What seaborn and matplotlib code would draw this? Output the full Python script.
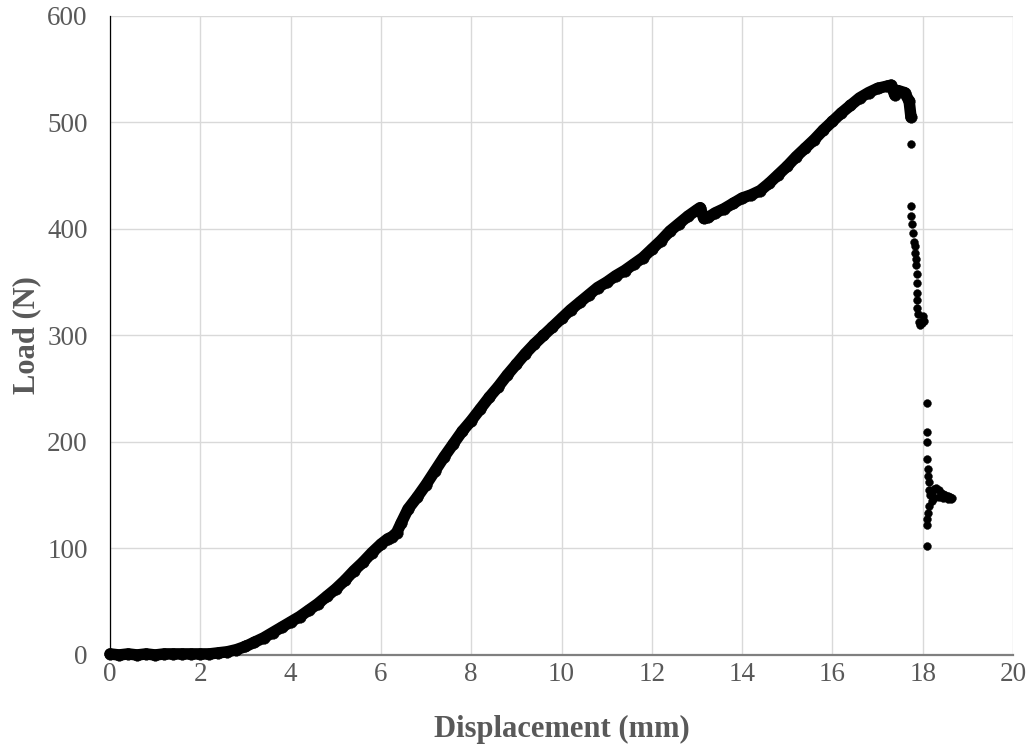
import matplotlib
matplotlib.use("Agg")
import matplotlib.pyplot as plt
import seaborn as sns
import pandas as pd

# Load-displacement record: continuous loading branch up to the peak
disp_main = [0.00, 0.20, 0.40, 0.60, 0.80, 1.00, 1.20, 1.40, 1.60, 1.80,
             2.00, 2.20, 2.40, 2.60, 2.80, 3.00, 3.20, 3.40, 3.60, 3.80,
             4.00, 4.20, 4.40, 4.60, 4.80, 5.00, 5.20, 5.40, 5.60, 5.80,
             6.00, 6.15, 6.25, 6.35, 6.45, 6.60, 6.80, 7.00, 7.20, 7.40,
             7.60, 7.80, 8.00, 8.20, 8.40, 8.60, 8.80, 9.00, 9.20, 9.40,
             9.60, 9.80, 10.00, 10.20, 10.40, 10.60, 10.80, 11.00, 11.20, 11.40,
             11.60, 11.80, 12.00, 12.20, 12.40, 12.60, 12.80, 13.00, 13.07, 13.15,
             13.25, 13.40, 13.60, 13.80, 14.00, 14.20, 14.40, 14.60, 14.80, 15.00,
             15.20, 15.40, 15.60, 15.80, 16.00, 16.20, 16.40, 16.60, 16.80, 17.00,
             17.20, 17.30, 17.38, 17.45, 17.60, 17.70, 17.74]
load_main = [1, 0, 1, 0, 1, 0, 1, 1, 1, 1,
             1, 1, 2, 3, 5, 8, 12, 16, 21, 26,
             31, 36, 42, 48, 55, 62, 70, 79, 87, 96,
             104, 109, 111, 115, 124, 137, 148, 160, 173, 186,
             198, 210, 220, 231, 242, 252, 263, 273, 283, 292,
             300, 308, 316, 324, 331, 338, 345, 350, 356, 361,
             367, 373, 381, 389, 398, 405, 412, 418, 420, 410,
             411, 415, 419, 424, 429, 432, 436, 443, 451, 459,
             468, 476, 484, 493, 501, 509, 516, 523, 528, 532,
             534, 535, 526, 530, 528, 520, 505]

# Post-peak failure: scattered readings during the load drop
disp_drop = [17.74, 17.74, 17.75, 17.76, 17.78, 17.80, 17.82, 17.84, 17.86, 17.86,
             17.87, 17.87, 17.87, 17.87, 17.88, 17.90, 17.92, 17.95, 17.98, 18.00,
             18.02, 18.09, 18.09, 18.10, 18.10, 18.12, 18.12, 18.13, 18.14, 18.16,
             18.20, 18.25, 18.30, 18.35, 18.40, 18.45, 18.50, 18.55, 18.60, 18.65,
             18.62, 18.55, 18.45, 18.35, 18.25, 18.20, 18.15, 18.12, 18.10, 18.09,
             18.10]
load_drop = [480, 422, 412, 405, 396, 388, 384, 377, 372, 366,
             358, 349, 340, 333, 326, 320, 313, 310, 312, 318,
             314, 237, 209, 200, 184, 175, 168, 162, 155, 150,
             152, 156, 157, 155, 152, 151, 150, 149, 148, 147,
             146, 146, 147, 148, 147, 145, 140, 133, 128, 122,
             102]

x_ticks = [0, 2, 4, 6, 8, 10, 12, 14, 16, 18, 20]
y_ticks = [0, 100, 200, 300, 400, 500, 600]

sns.set_theme(style="white")
plt.rcParams["font.family"] = ["Liberation Serif", "DejaVu Serif"]

text_gray = "#595959"

fig = plt.figure(figsize=(10.34, 7.5), dpi=100)
ax = fig.add_axes([0.1064, 0.1267, 0.8733, 0.852])

main_df = pd.DataFrame({"Displacement": disp_main, "Load": load_main})
drop_df = pd.DataFrame({"Displacement": disp_drop, "Load": load_drop})

sns.lineplot(data=main_df, x="Displacement", y="Load", sort=False, ax=ax,
             color="black", linewidth=8.3, solid_capstyle="round",
             solid_joinstyle="round", zorder=3, clip_on=False)
sns.scatterplot(data=main_df, x="Displacement", y="Load", ax=ax,
                color="black", s=70, edgecolor="black", linewidth=0.3,
                zorder=4, clip_on=False)
sns.scatterplot(data=drop_df, x="Displacement", y="Load", ax=ax,
                color="black", s=32, edgecolor="black", linewidth=0.3,
                zorder=4, clip_on=False)

ax.set_xlim(0, 20)
ax.set_ylim(0, 600)
ax.set_xticks(x_ticks)
ax.set_yticks(y_ticks)
ax.set_xticklabels([str(t) for t in x_ticks])
ax.set_yticklabels([str(t) for t in y_ticks])
ax.grid(True, color="#d9d9d9", linewidth=1.0, zorder=0)
ax.set_axisbelow(True)

for side in ("top", "right"):
    ax.spines[side].set_visible(False)
ax.spines["left"].set_color("#000000")
ax.spines["left"].set_linewidth(0.9)
ax.spines["bottom"].set_color("#7f7f7f")
ax.spines["bottom"].set_linewidth(1.6)
ax.spines["bottom"].set_zorder(2)

ax.tick_params(axis="both", length=0, labelsize=19.5, labelcolor=text_gray)
ax.tick_params(axis="x", pad=5)
ax.tick_params(axis="y", pad=16)

ax.set_xlabel("Displacement (mm)", fontsize=22, fontweight="bold",
              color=text_gray, labelpad=20)
ax.set_ylabel("Load (N)", fontsize=22, fontweight="bold",
              color=text_gray, labelpad=4)

fig.savefig("out.png", dpi=100, facecolor="white")
